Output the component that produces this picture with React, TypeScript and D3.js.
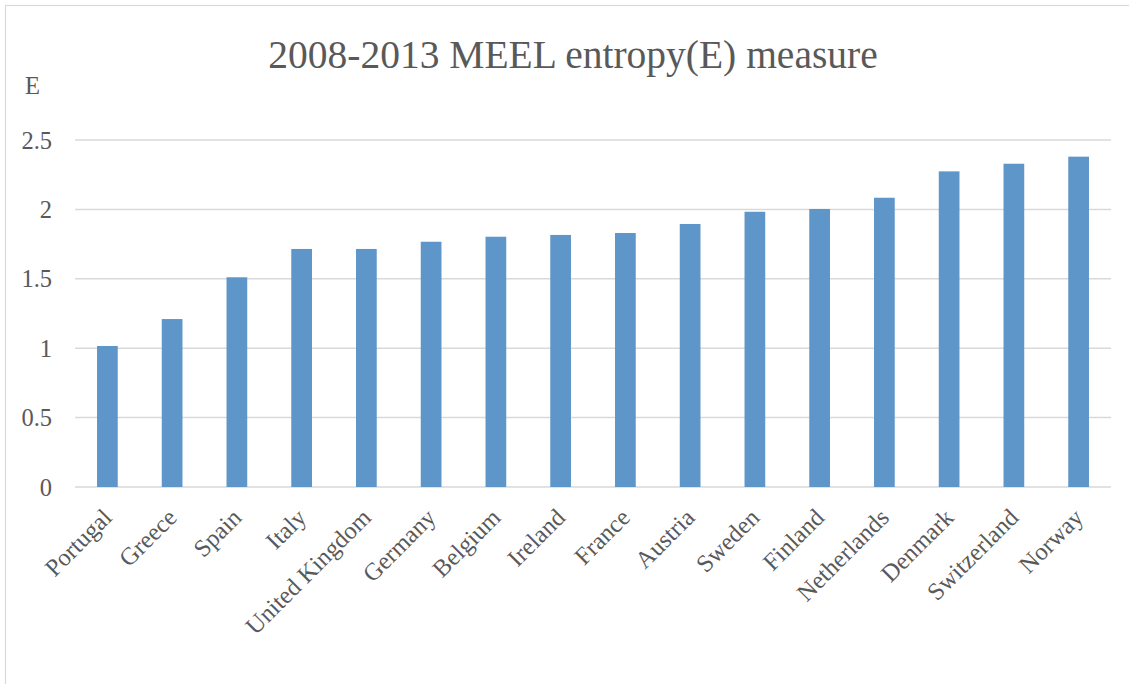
import React from "react";
import * as d3 from "d3";

// Entropy measure (E) per country, 2008-2013, ordered ascending
const countries: string[] = [
  "Portugal", "Greece", "Spain", "Italy", "United Kingdom", "Germany",
  "Belgium", "Ireland", "France", "Austria", "Sweden", "Finland",
  "Netherlands", "Denmark", "Switzerland", "Norway",
];
const entropy: number[] = [
  1.016, 1.21, 1.511, 1.715, 1.715, 1.767,
  1.803, 1.816, 1.83, 1.895, 1.983, 2.003,
  2.084, 2.274, 2.329, 2.38,
];
const yTicks: number[] = [0, 0.5, 1, 1.5, 2, 2.5];
const yTickLabels: string[] = ["0", "0.5", "1", "1.5", "2", "2.5"];

const W = 1129;
const H = 684;
const FONT = "'Liberation Serif', 'DejaVu Serif', serif";
const TEXT = "#595959";
const BAR = "#5f96c9";
const GRID = "#d9d9d9";

export default function App() {
  const x = d3
    .scaleBand<string>()
    .domain(countries)
    .range([75, 1111])
    .paddingInner(0.68)
    .paddingOuter(0.34);
  const y = d3.scaleLinear().domain([0, 2.5]).range([487, 140]);

  return (
    <svg
      width={W}
      height={H}
      style={{ position: "absolute", left: 0, top: 0, background: "#fff" }}
      fontFamily={FONT}
    >
      <rect x={5.5} y={5.5} width={W} height={H} fill="#fff" stroke="#d9d9d9" strokeWidth={1.2} />

      <text x={573} y={68} textAnchor="middle" fontSize={39.5} fill={TEXT}>
        2008-2013 MEEL entropy(E) measure
      </text>

      <text x={25} y={94} fontSize={24.5} fill={TEXT}>E</text>

      {yTicks.map((t, i) => (
        <g key={t}>
          <line x1={75} x2={1111} y1={y(t)} y2={y(t)} stroke={GRID} strokeWidth={1.5} />
          <text x={52} y={y(t) + 8.5} textAnchor="end" fontSize={24.5} fill={TEXT}>
            {yTickLabels[i]}
          </text>
        </g>
      ))}

      {countries.map((c, i) => (
        <rect
          key={c}
          x={x(c)}
          y={y(entropy[i])}
          width={x.bandwidth()}
          height={y(0) - y(entropy[i])}
          fill={BAR}
        />
      ))}

      {countries.map((c) => {
        const cx = (x(c) as number) + x.bandwidth() / 2 + 6;
        const cy = 519;
        return (
          <text
            key={c}
            transform={`translate(${cx},${cy}) rotate(-45)`}
            textAnchor="end"
            fontSize={24.5}
            fill={TEXT}
          >
            {c}
          </text>
        );
      })}
    </svg>
  );
}
